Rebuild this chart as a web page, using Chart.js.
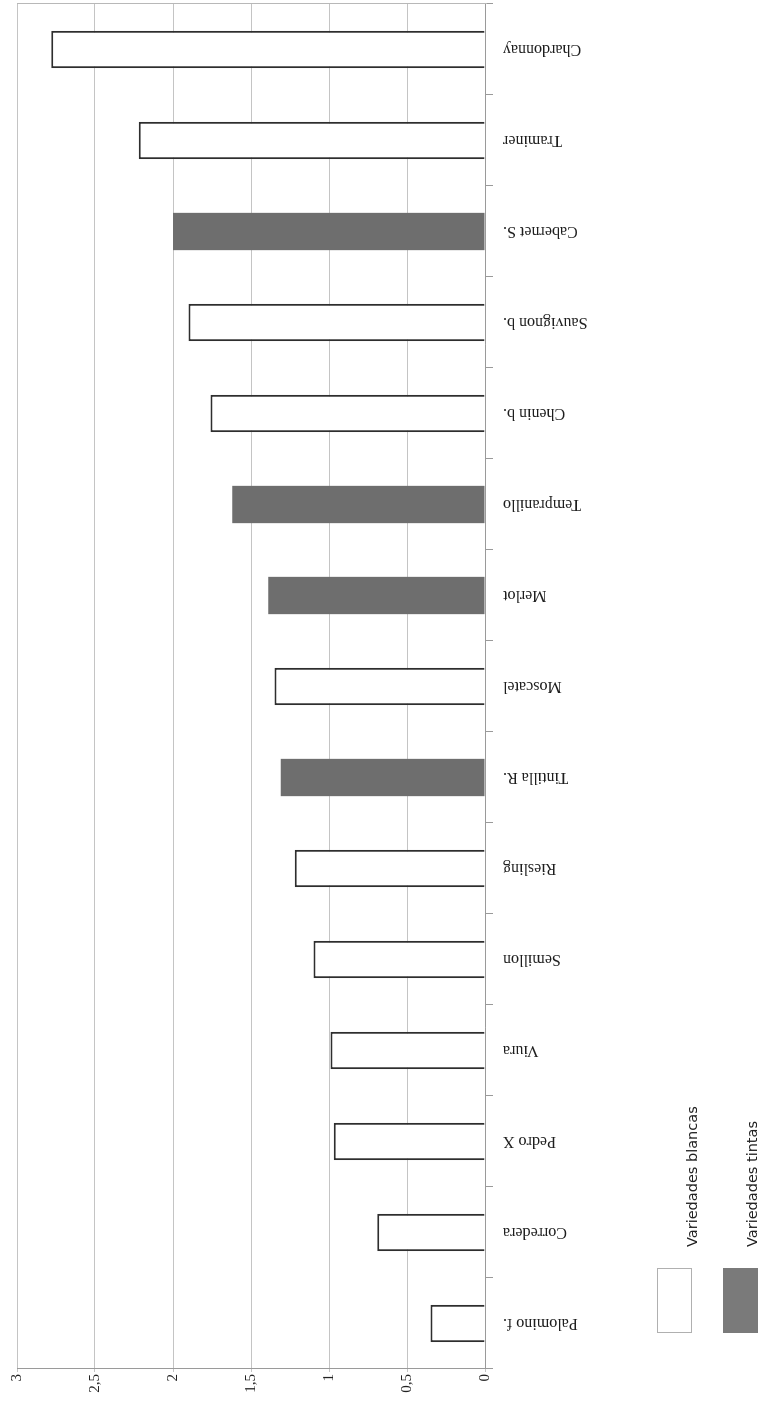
<!DOCTYPE html>
<html lang="es">
<head>
    <meta charset="UTF-8">
    <title>Variedades</title>
    <style>
        body {
            margin: 0;
            background: #fff;
            overflow: hidden;
        }

        /* the chart is laid out lying on its side and turned upright */
        #wrap {
            position: absolute;
            left: 0;
            top: 0;
            width: 1414px;
            height: 764px;
            transform-origin: 0 0;
            transform: translate(0, 1414px) rotate(-90deg);
        }
    </style>
</head>
<body>
    <div id="wrap">
        <canvas id="chart" width="1414" height="764"></canvas>
    </div>

    <script src="https://cdn.jsdelivr.net/npm/chart.js"></script>
    <script>
        const categories = ['Palomino f.', 'Corredera', 'Pedro X', 'Viura', 'Semillon', 'Riesling', 'Tintilla R.',
            'Moscatel', 'Merlot', 'Tempranillo', 'Chenin b.', 'Sauvignon b.', 'Cabernet S.', 'Traminer', 'Chardonnay'];
        const blancas = [0.35, 0.69, 0.97, 0.99, 1.10, 1.22, null, 1.35, null, null, 1.76, 1.90, null, 2.22, 2.78];
        const tintas = [null, null, null, null, null, null, 1.31, null, 1.39, 1.62, null, null, 2.00, null, null];
        const seriesNames = ['Variedades blancas', 'Variedades tintas'];
        const valueTicks = [0, 0.5, 1, 1.5, 2, 2.5, 3];

        const grey = '#6e6e6e';

        // boxes under the category labels
        const legendBoxes = {
            id: 'legendBoxes',
            afterDraw(chart) {
                const ctx = chart.ctx;
                const rows = [
                    { top: 657, base: 697 },
                    { top: 723, base: 757 }
                ];
                ctx.save();
                chart.data.datasets.forEach((ds, i) => {
                    const r = rows[i];
                    ctx.fillStyle = i === 0 ? '#ffffff' : '#7a7a7a';
                    ctx.fillRect(81, r.top, 65, 35);
                    if (i === 0) {
                        ctx.strokeStyle = '#b0b0b0';
                        ctx.lineWidth = 1;
                        ctx.strokeRect(81.5, r.top + 0.5, 64, 34);
                    }
                    ctx.fillStyle = '#222';
                    ctx.font = '14.5px "DejaVu Sans"';
                    ctx.textBaseline = 'alphabetic';
                    ctx.fillText(ds.label, 167, r.base);
                });
                ctx.restore();
            }
        };

        // closing line on the far side of the plot
        const frame = {
            id: 'frame',
            beforeDatasetsDraw(chart) {
                const { ctx, chartArea } = chart;
                ctx.save();
                ctx.strokeStyle = '#b8b8b8';
                ctx.lineWidth = 1;
                ctx.beginPath();
                ctx.moveTo(chartArea.right + 0.5, chartArea.top);
                ctx.lineTo(chartArea.right + 0.5, chartArea.bottom + 2);
                ctx.stroke();
                ctx.restore();
            }
        };

        new Chart(document.getElementById('chart'), {
            type: 'bar',
            data: {
                labels: categories,
                datasets: [
                    {
                        label: seriesNames[0],
                        data: blancas,
                        backgroundColor: '#ffffff',
                        borderColor: '#2e2e2e',
                        borderWidth: 2
                    },
                    {
                        label: seriesNames[1],
                        data: tintas,
                        backgroundColor: grey,
                        borderWidth: 0
                    }
                ]
            },
            options: {
                responsive: false,
                animation: false,
                grouped: false,
                barPercentage: 0.41,
                categoryPercentage: 1,
                layout: {
                    padding: { top: 17, right: 4, left: 0, bottom: 0 }
                },
                plugins: {
                    legend: { display: false },
                    tooltip: { enabled: false }
                },
                scales: {
                    x: {
                        afterFit(scale) { scale.height = 279; },
                        grid: {
                            offset: true,
                            drawOnChartArea: false,
                            tickLength: 8,
                            color: '#9a9a9a'
                        },
                        border: { color: '#9a9a9a' },
                        ticks: {
                            autoSkip: false,
                            minRotation: 90,
                            maxRotation: 90,
                            padding: 10,
                            color: '#1e1e1e',
                            font: { family: '"Liberation Serif"', size: 16 }
                        }
                    },
                    y: {
                        min: 0,
                        max: 3,
                        afterFit(scale) { scale.width = 45; },
                        afterBuildTicks(scale) {
                            scale.ticks = valueTicks.map(v => ({ value: v }));
                        },
                        grid: {
                            color: '#c4c4c4',
                            tickLength: 3
                        },
                        border: { color: '#9a9a9a' },
                        ticks: {
                            padding: 2,
                            color: '#222',
                            font: { family: '"Liberation Serif"', size: 15 },
                            callback: v => String(v).replace('.', ',')
                        }
                    }
                }
            },
            plugins: [legendBoxes, frame]
        });
    </script>
</body>
</html>
